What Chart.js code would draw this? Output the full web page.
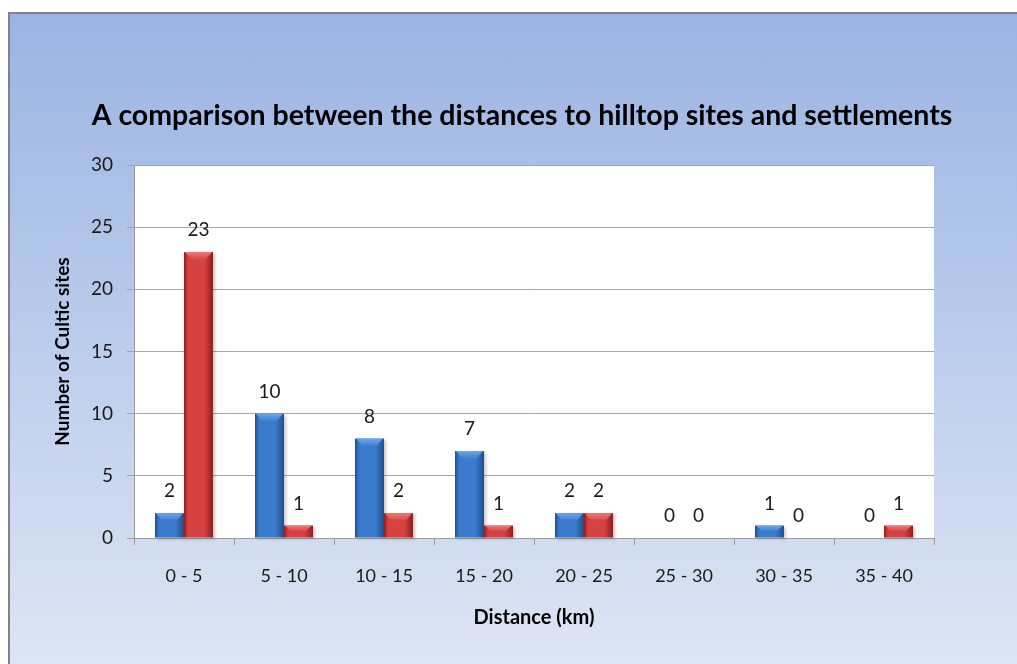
<!DOCTYPE html>
<html>
<head>
<meta charset="utf-8">
<script src="https://cdn.jsdelivr.net/npm/chart.js@4.4.1/dist/chart.umd.min.js"></script>
<style>
  html, body { margin: 0; padding: 0; background: #fff; overflow: hidden; }
  #frame {
    position: absolute; left: 8px; top: 12px; width: 1020px; height: 660px;
    border: 2px solid #828282;
    background: linear-gradient(to bottom, #9bb4e2 0%, #b8caeb 45%, #dfe6f4 100%);
  }
  #box { position: absolute; left: 0; top: 0; width: 1007px; height: 650px; }
</style>
</head>
<body>
<div id="frame"><div id="box"><canvas id="mycanvas"></canvas></div></div>
<script>
var titleText = 'A comparison between the distances to hilltop sites and settlements';
var categories = ['0 - 5', '5 - 10', '10 - 15', '15 - 20', '20 - 25', '25 - 30', '30 - 35', '35 - 40'];
var hilltopSites = [2, 10, 8, 7, 2, 0, 1, 0];
var settlements = [23, 1, 2, 1, 2, 0, 0, 1];
var yTicks = [0, 5, 10, 15, 20, 25, 30];

var FONT = "Lato, sans-serif";

// white plot area + chart title (centred on the whole frame, not the plot)
var plotBg = {
    id: 'plotBg',
    beforeDraw: function(chart) {
        var a = chart.chartArea, ctx = chart.ctx;
        ctx.save();
        ctx.fillStyle = '#ffffff';
        ctx.fillRect(a.left, a.top, a.right - a.left, a.bottom - a.top);
        ctx.fillStyle = '#000';
        ctx.font = 'bold 28.5px ' + FONT;
        ctx.textAlign = 'center';
        ctx.textBaseline = 'middle';
        ctx.fillText(titleText, 512, 102);
        ctx.restore();
    }
};

// bevelled look + value labels
var barLook = {
    id: 'barLook',
    afterDatasetsDraw: function(chart) {
        var ctx = chart.ctx;
        var shades = [
            { edge: '#1f4f8e', mid: '#3b7bcd', top: '#6ea6ea' },
            { edge: '#8c1f1f', mid: '#d64242', top: '#f07a7a' }
        ];
        chart.data.datasets.forEach(function(ds, di) {
            var meta = chart.getDatasetMeta(di);
            var s = shades[di];
            meta.data.forEach(function(bar, i) {
                var left = bar.x - bar.width / 2, right = bar.x + bar.width / 2;
                var top = bar.y, bottom = bar.base;
                var h = bottom - top;
                ctx.save();
                if (h > 0) {
                    ctx.shadowColor = 'rgba(0,0,0,0.22)';
                    ctx.shadowOffsetX = 2;
                    ctx.shadowOffsetY = 1;
                    ctx.shadowBlur = 3;
                    var g = ctx.createLinearGradient(left, 0, right, 0);
                    g.addColorStop(0, s.edge);
                    g.addColorStop(0.14, s.mid);
                    g.addColorStop(0.7, s.mid);
                    g.addColorStop(1, s.edge);
                    ctx.fillStyle = g;
                    ctx.fillRect(left, top, right - left, h);
                    ctx.shadowColor = 'transparent';
                    var bev = Math.min(8, h / 2);
                    var inset = Math.min(8, bar.width / 3);
                    var tg = ctx.createLinearGradient(0, top, 0, top + bev);
                    tg.addColorStop(0, s.top);
                    tg.addColorStop(1, s.mid);
                    ctx.beginPath();
                    ctx.moveTo(left + 1, top);
                    ctx.lineTo(right - 1, top);
                    ctx.lineTo(right - inset, top + bev);
                    ctx.lineTo(left + inset, top + bev);
                    ctx.closePath();
                    ctx.fillStyle = tg;
                    ctx.fill();
                }
                ctx.fillStyle = '#1a1a1a';
                ctx.font = '19px ' + FONT;
                ctx.textAlign = 'center';
                ctx.textBaseline = 'middle';
                ctx.fillText(String(ds.data[i]), bar.x, top - 22);
                ctx.restore();
            });
        });
    }
};

var chartdata = {
    labels: categories,
    datasets: [{
        label: 'Hilltop sites',
        backgroundColor: 'rgba(0,0,0,0)',
        data: hilltopSites
    }, {
        label: 'Settlements',
        backgroundColor: 'rgba(0,0,0,0)',
        data: settlements
    }]
};

var ctx = document.getElementById('mycanvas');
var barGraph = new Chart(ctx, {
    type: 'bar',
    data: chartdata,
    plugins: [plotBg, barLook],
    options: {
        responsive: true,
        maintainAspectRatio: false,
        animation: false,
        categoryPercentage: 0.58,
        barPercentage: 1,
        layout: { padding: { left: 0, right: 83, top: 151, bottom: 0 } },
        plugins: {
            legend: { display: false },
            tooltip: { enabled: false },
            title: { display: false }
        },
        scales: {
            x: {
                grid: { display: true, drawOnChartArea: false, drawTicks: true, tickLength: 7, color: '#9a9a9a', offset: true },
                border: { color: '#9a9a9a' },
                ticks: { color: '#1a1a1a', font: { family: FONT, size: 18 }, padding: 20 },
                title: { display: true, text: 'Distance (km)', color: '#000', font: { family: FONT, size: 20, weight: 'bold' }, padding: { top: 0, bottom: 34 } },
                afterFit: function(scale) { scale.height = 126; }
            },
            y: {
                min: 0,
                max: 30,
                afterBuildTicks: function(scale) { scale.ticks = yTicks.map(function(v) { return { value: v }; }); },
                grid: { color: '#a6a6a6', tickLength: 7 },
                border: { color: '#9a9a9a' },
                ticks: { color: '#1a1a1a', font: { family: FONT, size: 19 }, padding: 14 },
                title: { display: true, text: 'Number of Cultic sites', color: '#000', font: { family: FONT, size: 19, weight: 'bold' }, padding: { top: 41, bottom: 0 } },
                afterFit: function(scale) { scale.width = 124; }
            }
        }
    }
});
</script>
</body>
</html>
